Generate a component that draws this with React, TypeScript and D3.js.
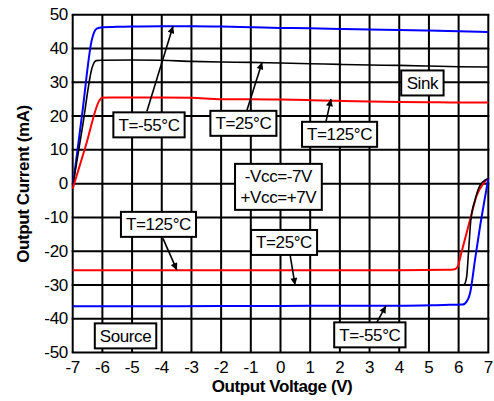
import React, { useEffect, useRef } from "react";
import * as d3 from "d3";

// ---- Data ----
const voltageTicks = [-7, -6, -5, -4, -3, -2, -1, 0, 1, 2, 3, 4, 5, 6, 7];
const currentTicks = [-50, -40, -30, -20, -10, 0, 10, 20, 30, 40, 50];

// Sink (positive current)
const sinkColdV = [-7, -6.68, -6.36, -6.28, -6.19, -6.0, -5.5, -5, -4, -3, -2, -1, 0, 1, 2, 3, 4, 5, 6, 7];
const sinkColdI = [-1, 20.7, 42.4, 44.8, 45.9, 46.3, 46.4, 46.5, 46.6, 46.6, 46.5, 46.3, 46.1, 46.0, 45.8, 45.6, 45.5, 45.3, 45.1, 44.9];

const sinkRoomV = [-7, -6.67, -6.34, -6.28, -6.21, -6.05, -5, -4, -3, -2, -1, 0, 1, 2, 3, 4, 5, 6, 7];
const sinkRoomI = [-1, 16.8, 34.5, 35.8, 36.4, 36.5, 36.6, 36.5, 36.2, 36, 35.9, 35.7, 35.5, 35.3, 35.1, 35, 34.8, 34.6, 34.5];

const sinkHotV = [-7, -6.55, -6.1, -6.02, -5.8, -5, -4, -3, -2, -1, 0, 1, 2, 3, 4, 5, 6, 7];
const sinkHotI = [-1.5, 11.5, 24.6, 25.4, 25.5, 25.5, 25.5, 25.4, 25, 25, 24.9, 24.7, 24.5, 24.3, 24.2, 24.1, 24, 24];

// Source (negative current)
const sourceHotV = [-7, -4, -2, 0, 2, 4, 5.6, 5.88, 5.97, 6.1, 6.38, 6.61, 6.83, 7];
const sourceHotI = [-25.6, -25.6, -25.6, -25.6, -25.6, -25.6, -25.5, -25.3, -24.5, -20.2, -10.9, -3.5, 0, 1.5];

const sourceRoomV = [-7, -4, -2, 0, 2, 4, 6.1, 6.19, 6.27, 6.33, 6.41, 6.55, 6.72, 6.89, 7];
const sourceRoomI = [-30, -30, -30, -30, -30, -30, -30, -29.8, -27.6, -20.7, -10.9, -4.9, -0.5, 1, 1.5];

const sourceColdV = [-7, -5, -2, 0, 2, 4, 5.5, 6.12, 6.21, 6.38, 6.55, 6.72, 6.89, 7];
const sourceColdI = [-36.3, -36.3, -36.2, -36.2, -36.1, -36.1, -35.9, -35.8, -35.5, -32.6, -22.7, -12.8, -4, 1.5];

const seriesColors = ["#0000ff", "#000000", "#ff0000", "#ff0000", "#000000", "#0000ff"];

// Annotations: label lines, box centre (V, mA), arrow start and end (V, mA)
const noteLabels = [["T=-55°C"], ["T=25°C"], ["T=125°C"], ["Sink"], ["-Vcc=-7V", "+Vcc=+7V"], ["T=125°C"], ["T=25°C"], ["T=-55°C"], ["Source"]];
const noteCenters: [number, number][] = [[-4.43, 17.4], [-1.25, 17.85], [1.99, 14.6], [4.78, 29.8], [-0.07, -0.95], [-4.11, -12.05], [0.12, -17.4], [3.01, -44.75], [-5.22, -45.05]];
const arrowFrom: [number, number][] = [[-4.5, 21.4], [-1.13, 21.7], [1.53, 18.3], [-3.96, -16.2], [0.32, -20.9], [3.25, -41.0]];
const arrowTo: [number, number][] = [[-3.62, 46.6], [-0.62, 35.9], [1.7, 25.0], [-3.49, -25.6], [0.49, -30.0], [3.55, -36.2]];

const W = 494;
const H = 401;

export default function App() {
  const ref = useRef<SVGSVGElement>(null);

  useEffect(() => {
    const svg = d3.select(ref.current);
    svg.selectAll("*").remove();
    const font = "'Liberation Sans', Arial, sans-serif";

    const x = d3.scaleLinear().domain([-7, 7]).range([72.7, 488.3]);
    const y = d3.scaleLinear().domain([-50, 50]).range([352.6, 14.7]);

    // grid
    const g = svg.append("g");
    g.selectAll("line.v")
      .data(voltageTicks)
      .join("line")
      .attr("x1", (d) => x(d))
      .attr("x2", (d) => x(d))
      .attr("y1", y(50))
      .attr("y2", y(-50))
      .attr("stroke", "#000")
      .attr("stroke-width", 2);
    g.selectAll("line.h")
      .data(currentTicks)
      .join("line")
      .attr("class", "h")
      .attr("x1", x(-7) - 1)
      .attr("x2", x(7) + 1)
      .attr("y1", (d) => y(d))
      .attr("y2", (d) => y(d))
      .attr("stroke", "#000")
      .attr("stroke-width", 2);

    // tick labels
    svg.append("g")
      .selectAll("text")
      .data(voltageTicks)
      .join("text")
      .attr("x", (d) => x(d))
      .attr("y", 372.7)
      .attr("text-anchor", "middle")
      .attr("font-family", font)
      .attr("font-size", 17)
      .attr("letter-spacing", -0.3)
      .text((d) => String(d));
    svg.append("g")
      .selectAll("text")
      .data(currentTicks)
      .join("text")
      .attr("x", 68)
      .attr("y", (d) => y(d) + 5.5)
      .attr("text-anchor", "end")
      .attr("font-family", font)
      .attr("font-size", 17)
      .attr("letter-spacing", -0.3)
      .text((d) => String(d));

    // axis titles
    svg.append("text")
      .attr("x", 282)
      .attr("y", 391.5)
      .attr("text-anchor", "middle")
      .attr("font-family", font)
      .attr("font-size", 17)
      .attr("font-weight", "bold")
      .attr("letter-spacing", -0.4)
      .text("Output Voltage (V)");
    svg.append("text")
      .attr("transform", "translate(28.5,184) rotate(-90)")
      .attr("text-anchor", "middle")
      .attr("font-family", font)
      .attr("font-size", 17)
      .attr("font-weight", "bold")
      .attr("letter-spacing", -0.4)
      .text("Output Current (mA)");

    // curves
    const seriesV = [sinkColdV, sinkRoomV, sinkHotV, sourceHotV, sourceRoomV, sourceColdV];
    const seriesI = [sinkColdI, sinkRoomI, sinkHotI, sourceHotI, sourceRoomI, sourceColdI];
    const line = d3
      .line<[number, number]>()
      .x((d) => x(d[0]))
      .y((d) => y(d[1]))
      .curve(d3.curveMonotoneX);
    seriesV.forEach((vs, i) => {
      const pts = vs.map((v, j) => [v, seriesI[i][j]] as [number, number]);
      svg.append("path")
        .attr("d", line(pts))
        .attr("fill", "none")
        .attr("stroke", seriesColors[i])
        .attr("stroke-width", seriesColors[i] === "#000000" ? 1.6 : 2)
        .attr("stroke-linejoin", "round");
    });

    // arrows
    const defs = svg.append("defs");
    defs.append("marker")
      .attr("id", "ah")
      .attr("viewBox", "0 0 10 10")
      .attr("refX", 10)
      .attr("refY", 5)
      .attr("markerUnits", "userSpaceOnUse")
      .attr("markerWidth", 10)
      .attr("markerHeight", 7)
      .attr("orient", "auto")
      .append("path")
      .attr("d", "M0,0 L10,5 L0,10 Z")
      .attr("fill", "#000");
    arrowFrom.forEach((f, i) => {
      const t = arrowTo[i];
      svg.append("line")
        .attr("x1", x(f[0]))
        .attr("y1", y(f[1]))
        .attr("x2", x(t[0]))
        .attr("y2", y(t[1]))
        .attr("stroke", "#000")
        .attr("stroke-width", 1.6)
        .attr("marker-end", "url(#ah)");
    });

    // boxes
    noteLabels.forEach((lines, i) => {
      const [cv, ci] = noteCenters[i];
      const cx = x(cv);
      const cy = y(ci);
      const grp = svg.append("g");
      const rect = grp.append("rect").attr("fill", "#fff").attr("stroke", "#000").attr("stroke-width", 2);
      const lh = 21;
      const txt = grp.append("text")
        .attr("font-family", font)
        .attr("font-size", 17)
        .attr("letter-spacing", -0.4)
        .attr("text-anchor", "middle");
      lines.forEach((s, k) => {
        txt.append("tspan")
          .attr("x", cx)
          .attr("y", cy + 6 + (k - (lines.length - 1) / 2) * lh)
          .text(s);
      });
      const node = txt.node() as SVGTextElement;
      const bb = node.getBBox();
      const w = bb.width + 10;
      const h = lines.length * lh + 4;
      rect.attr("x", cx - w / 2).attr("y", cy - h / 2).attr("width", w).attr("height", h);
    });
  }, []);

  return (
    <svg
      ref={ref}
      width={W}
      height={H}
      style={{ position: "absolute", left: 0, top: 0, background: "#fff" }}
    />
  );
}
